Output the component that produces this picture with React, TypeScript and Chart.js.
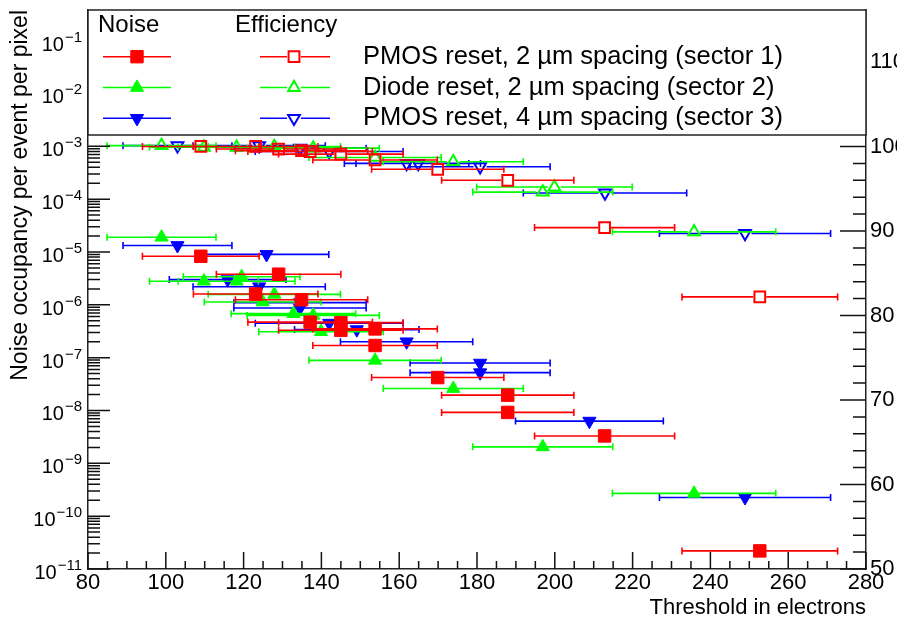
import React, { useEffect, useRef } from 'react';
import { Chart, registerables } from 'chart.js';

Chart.register(...registerables);

const FONT = "'Liberation Sans', Arial, Helvetica, sans-serif";

// ---------- Noise occupancy (left, log axis) ----------
// Sector 1: PMOS reset, 2 um spacing
const s1NoiseX = [109.0, 129.0, 123.1, 134.9, 137.1, 145.0, 145.0, 153.8, 153.8, 169.9, 187.9, 187.9, 212.8, 252.7];
const s1NoiseErr = [15, 16, 16, 17, 16, 16, 16, 16, 16, 17, 17, 17, 18, 20];
const s1Noise = [8.3e-6, 3.8e-6, 1.6e-6, 1.25e-6, 4.7e-7, 4.6e-7, 3.3e-7, 3.5e-7, 1.7e-7, 4.2e-8, 1.95e-8, 9.2e-9, 3.3e-9, 2.2e-11];

// Sector 2: Diode reset, 2 um spacing
const s2NoiseX = [98.9, 109.8, 118.2, 119.5, 127.9, 124.9, 132.8, 137.9, 139.9, 153.8, 173.9, 196.9, 235.8];
const s2NoiseErr = [14, 14, 15, 15, 17, 15, 16, 17, 16, 17, 18, 18, 21];
const s2Noise = [1.9e-5, 2.8e-6, 2.8e-6, 3.4e-6, 1.58e-6, 1.13e-6, 6.8e-7, 6.3e-7, 3.1e-7, 8.9e-8, 2.6e-8, 2.05e-9, 2.7e-10];

// Sector 3: PMOS reset, 4 um spacing
const s3NoiseX = [103.0, 125.9, 115.9, 124.0, 134.5, 134.5, 142.0, 149.1, 161.9, 180.8, 180.8, 208.9, 248.9];
const s3NoiseErr = [14, 16, 15, 17, 17, 17, 19, 16, 17, 18, 18, 19, 22];
const s3Noise = [1.33e-5, 9.0e-6, 3.0e-6, 2.2e-6, 1.1e-6, 8.7e-7, 4.5e-7, 3.4e-7, 2.0e-7, 7.9e-8, 5.2e-8, 6.3e-9, 2.26e-10];

// ---------- Efficiency in % (right axis) ----------
const s1EffX = [109.0, 123.1, 129.0, 134.9, 137.1, 145.0, 153.8, 169.9, 187.9, 212.8, 252.7];
const s1EffErr = [15, 16, 16, 17, 16, 16, 16, 17, 17, 18, 20];
const s1Eff = [100.0, 100.0, 99.7, 99.5, 99.4, 99.1, 98.4, 97.3, 96.0, 90.4, 82.2];

const s2EffX = [98.9, 109.8, 118.2, 127.9, 137.9, 153.8, 173.9, 196.9, 199.9, 235.8];
const s2EffErr = [14, 14, 15, 17, 17, 17, 18, 18, 20, 21];
const s2Eff = [100.1, 99.9, 99.9, 100.0, 99.8, 98.7, 98.2, 94.6, 95.2, 89.9];

const s3EffX = [103.0, 124.0, 134.5, 142.0, 161.9, 164.9, 180.8, 212.9, 248.9];
const s3EffErr = [14, 17, 17, 19, 16, 16, 18, 21, 22];
const s3Eff = [100.1, 100.1, 99.8, 99.4, 98.0, 98.0, 97.6, 94.5, 89.7];

// ---------- Labels / ticks ----------
const seriesLabels = [
  'PMOS reset, 2 µm spacing (sector 1)',
  'Diode reset, 2 µm spacing (sector 2)',
  'PMOS reset, 4 µm spacing (sector 3)',
];
const seriesColors = ['#ff0000', '#00ff00', '#0000ff'];
const legendHeaders = ['Noise', 'Efficiency'];
const xAxisTitle = 'Threshold in electrons';
const yAxisTitle = 'Noise occupancy per event per pixel';
const xTicks = [80, 100, 120, 140, 160, 180, 200, 220, 240, 260, 280];
const noiseDecades = [-11, -10, -9, -8, -7, -6, -5, -4, -3, -2, -1];
const effTicks = [50, 60, 70, 80, 90, 100, 110];

const X_MIN = 80;
const X_MAX = 280;
const NOISE_MIN = 1e-11;
const NOISE_MAX = Math.pow(10, -0.42);
const EFF_MIN = 50;
const EFF_MAX = 116.15;

function pts(xs: number[], ys: number[], errs: number[]) {
  return xs.map((x, i) => ({ x, y: ys[i], xerr: errs[i] }));
}

type Shape = 'square' | 'up' | 'down';
const shapes: Shape[] = ['square', 'up', 'down'];

function noiseDs(i: number, data: any[]) {
  const shape = shapes[i];
  return {
    label: 'Noise ' + seriesLabels[i],
    data,
    yAxisID: 'y',
    pointStyle: shape === 'square' ? 'rect' : 'triangle',
    pointRotation: shape === 'down' ? 180 : 0,
    pointRadius: shape === 'square' ? 8.8 : 7.6,
    backgroundColor: seriesColors[i],
    borderColor: seriesColors[i],
    borderWidth: 1,
    errGap: 0,
    showLine: false,
  };
}

function effDs(i: number, data: any[]) {
  const shape = shapes[i];
  return {
    label: 'Efficiency ' + seriesLabels[i],
    data,
    yAxisID: 'y2',
    pointStyle: shape === 'square' ? 'rect' : 'triangle',
    pointRotation: shape === 'down' ? 180 : 0,
    pointRadius: shape === 'square' ? 7.6 : 6.8,
    backgroundColor: 'rgba(255,255,255,0)',
    borderColor: seriesColors[i],
    borderWidth: 2,
    errGap: 6.5,
    showLine: false,
  };
}

function drawMarker(ctx: CanvasRenderingContext2D, shape: Shape, cx: number, cy: number, color: string, filled: boolean) {
  ctx.save();
  ctx.fillStyle = color;
  ctx.strokeStyle = color;
  ctx.lineWidth = filled ? 1 : 2;
  ctx.beginPath();
  if (shape === 'square') {
    const h = filled ? 6.2 : 5.4;
    ctx.rect(cx - h, cy - h, 2 * h, 2 * h);
  } else {
    const r = filled ? 7.6 : 6.8;
    const s = shape === 'up' ? 1 : -1;
    ctx.moveTo(cx, cy - s * r);
    ctx.lineTo(cx + r * 0.866, cy + s * r / 2);
    ctx.lineTo(cx - r * 0.866, cy + s * r / 2);
    ctx.closePath();
  }
  if (filled) ctx.fill();
  ctx.stroke();
  ctx.restore();
}

const rootPlugin = {
  id: 'rootDecor',
  beforeDatasetDraw(chart: any, args: any) {
    const ds = chart.data.datasets[args.index];
    const meta = args.meta;
    const xs = chart.scales.x;
    const a = chart.chartArea;
    const ctx: CanvasRenderingContext2D = chart.ctx;
    ctx.save();
    ctx.beginPath();
    ctx.rect(a.left, a.top, a.right - a.left, a.bottom - a.top);
    ctx.clip();
    ctx.strokeStyle = ds.borderColor;
    ctx.lineWidth = 1.6;
    ctx.beginPath();
    meta.data.forEach((el: any, i: number) => {
      const raw = ds.data[i];
      if (raw.y == null || isNaN(el.y)) return;
      const y = el.y;
      const x1 = xs.getPixelForValue(raw.x - raw.xerr);
      const x2 = xs.getPixelForValue(raw.x + raw.xerr);
      const g = ds.errGap;
      ctx.moveTo(x1, y);
      ctx.lineTo(el.x - g, y);
      ctx.moveTo(el.x + g, y);
      ctx.lineTo(x2, y);
      ctx.moveTo(x1, y - 3.5);
      ctx.lineTo(x1, y + 3.5);
      ctx.moveTo(x2, y - 3.5);
      ctx.lineTo(x2, y + 3.5);
    });
    ctx.stroke();
    ctx.restore();
  },
  afterDatasetsDraw(chart: any) {
    const { ctx, chartArea: a, scales } = chart;
    const xs = scales.x, ys = scales.y, y2 = scales.y2;
    ctx.save();
    ctx.strokeStyle = '#111';
    ctx.lineWidth = 1.5;
    ctx.beginPath();
    // x ticks (inward)
    for (let v = X_MIN; v <= X_MAX + 1e-9; v += 5) {
      const px = xs.getPixelForValue(v);
      const len = Math.abs(v % 20) < 1e-6 ? 17 : 8;
      ctx.moveTo(px, a.bottom);
      ctx.lineTo(px, a.bottom - len);
    }
    // left log ticks
    for (let e = -11; e <= 0; e++) {
      for (let k = 1; k <= 9; k++) {
        const v = k * Math.pow(10, e);
        if (v < NOISE_MIN * 0.999 || v > NOISE_MAX) continue;
        const py = ys.getPixelForValue(v);
        const len = k === 1 ? 22 : 12;
        ctx.moveTo(a.left, py);
        ctx.lineTo(a.left + len, py);
      }
    }
    // right efficiency ticks
    for (let v = EFF_MIN; v <= EFF_MAX; v += 2) {
      const py = y2.getPixelForValue(v);
      const len = v % 10 === 0 ? 26 : 13;
      ctx.moveTo(a.right, py);
      ctx.lineTo(a.right - len, py);
    }
    ctx.stroke();
    ctx.restore();
  },
  afterDraw(chart: any) {
    const { ctx, chartArea: a, scales } = chart;
    const ys = scales.y;
    ctx.save();
    // left axis labels 10^n
    ctx.fillStyle = '#000';
    noiseDecades.forEach((e) => {
      const py = ys.getPixelForValue(Math.pow(10, e));
      if (py < a.top - 1) return;
      const exp = '\u2212' + Math.abs(e);
      ctx.font = `15px ${FONT}`;
      const ew = ctx.measureText(exp).width;
      const xr = a.left - 6;
      ctx.textAlign = 'left';
      ctx.textBaseline = 'alphabetic';
      ctx.fillText(exp, xr - ew, py + 1);
      ctx.font = `20px ${FONT}`;
      ctx.textAlign = 'right';
      ctx.fillText('10', xr - ew - 1, py + 10);
    });

    // legend box
    const L = a.left, T = a.top, W = a.right - a.left, H = 125;
    ctx.fillStyle = '#fff';
    ctx.fillRect(L, T, W, H);
    ctx.strokeStyle = '#222';
    ctx.lineWidth = 1.5;
    ctx.strokeRect(L, T, W, H);

    ctx.fillStyle = '#000';
    ctx.font = `24px ${FONT}`;
    ctx.textAlign = 'left';
    ctx.textBaseline = 'alphabetic';
    ctx.fillText(legendHeaders[0], L + 10, T + 22);
    ctx.fillText(legendHeaders[1], L + 147, T + 22);

    seriesLabels.forEach((lab, i) => {
      const y = T + 46.7 + i * 30.8;
      const c = seriesColors[i];
      ctx.strokeStyle = c;
      ctx.lineWidth = 1.6;
      ctx.beginPath();
      ctx.moveTo(L + 15, y);
      ctx.lineTo(L + 83, y);
      ctx.moveTo(L + 172, y);
      ctx.lineTo(L + 199, y);
      ctx.moveTo(L + 213, y);
      ctx.lineTo(L + 242, y);
      ctx.stroke();
      drawMarker(ctx, shapes[i], L + 49, y, c, true);
      drawMarker(ctx, shapes[i], L + 206, y, c, false);
      ctx.fillStyle = '#000';
      ctx.font = `25.5px ${FONT}`;
      ctx.textAlign = 'left';
      ctx.textBaseline = 'middle';
      ctx.fillText(lab, L + 275, y);
    });
    ctx.restore();
  },
};

function zeroPad(s: any) {
  s.paddingLeft = 0;
  s.paddingRight = 0;
  s.paddingTop = 0;
  s.paddingBottom = 0;
}

export default function App() {
  const ref = useRef<HTMLCanvasElement>(null);
  useEffect(() => {
    const canvas = ref.current!;
    const datasets: any[] = [
      noiseDs(0, pts(s1NoiseX, s1Noise, s1NoiseErr)),
      noiseDs(1, pts(s2NoiseX, s2Noise, s2NoiseErr)),
      noiseDs(2, pts(s3NoiseX, s3Noise, s3NoiseErr)),
      effDs(0, pts(s1EffX, s1Eff, s1EffErr)),
      effDs(1, pts(s2EffX, s2Eff, s2EffErr)),
      effDs(2, pts(s3EffX, s3Eff, s3EffErr)),
    ];
    const chart = new Chart(canvas, {
      type: 'scatter',
      data: { datasets },
      plugins: [rootPlugin as any],
      options: {
        animation: false,
        responsive: false,
        devicePixelRatio: 1,
        events: [],
        layout: { padding: { top: 10, left: 0, right: 0, bottom: 0 } },
        plugins: { legend: { display: false }, tooltip: { enabled: false } },
        scales: {
          x: {
            type: 'linear',
            position: 'bottom',
            min: X_MIN,
            max: X_MAX,
            grid: { display: false, drawTicks: false },
            border: { display: true, color: '#222', width: 1.5 },
            afterBuildTicks: (s: any) => { s.ticks = xTicks.map((v) => ({ value: v })); },
            ticks: { color: '#000', font: { family: FONT, size: 22 }, padding: 1, maxRotation: 0, autoSkip: false },
            title: {
              display: true,
              text: xAxisTitle,
              align: 'end',
              color: '#000',
              font: { family: FONT, size: 22 },
              padding: { top: 0, bottom: 1 },
            },
            afterFit: (s: any) => { s.height = 53; zeroPad(s); },
          },
          y: {
            type: 'logarithmic',
            position: 'left',
            min: NOISE_MIN,
            max: NOISE_MAX,
            grid: { display: false, drawTicks: false },
            border: { display: true, color: '#222', width: 1.5 },
            ticks: { display: false },
            title: {
              display: true,
              text: yAxisTitle,
              align: 'end',
              color: '#000',
              font: { family: FONT, size: 23 },
              padding: { top: 7, bottom: 0 },
            },
            afterFit: (s: any) => { s.width = 88; zeroPad(s); },
          },
          y2: {
            type: 'linear',
            position: 'right',
            min: EFF_MIN,
            max: EFF_MAX,
            grid: { display: false, drawTicks: false },
            border: { display: true, color: '#222', width: 1.5 },
            afterBuildTicks: (s: any) => { s.ticks = effTicks.map((v) => ({ value: v })); },
            ticks: { color: '#000', font: { family: FONT, size: 22 }, padding: 4 },
            afterFit: (s: any) => { s.width = 31; zeroPad(s); },
          },
        },
      } as any,
    });
    return () => chart.destroy();
  }, []);
  return (
    <div style={{ position: 'absolute', left: 0, top: 0, width: 897, height: 622, background: '#fff' }}>
      <canvas ref={ref} width={897} height={622} style={{ display: 'block' }} />
    </div>
  );
}
